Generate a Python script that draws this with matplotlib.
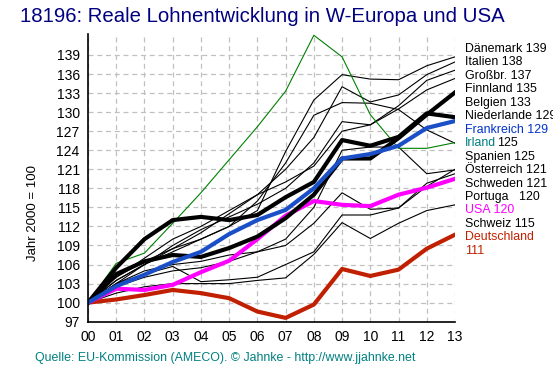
import numpy as np
import matplotlib.pyplot as plt

plt.rcParams['font.family'] = ['Liberation Sans', 'DejaVu Sans']

jahre = ["00", "01", "02", "03", "04", "05", "06", "07", "08", "09", "10", "11", "12", "13"]

# Index Jahr 2000 = 100
daenemark = [100, 103.5, 106, 108, 110, 112, 114.5, 123.8, 131.9, 135.9, 135.2, 135.1, 137.3, 138.7]
italien = [100, 103.5, 106, 108.5, 111, 114, 117, 121, 126, 134, 131.6, 132.7, 135.9, 137.9]
grossbr = [100, 104, 107, 110, 112, 114.5, 117, 119, 121.5, 127, 128, 131, 135, 136.6]
finnland = [100, 103, 106, 109, 111.5, 113.5, 115.5, 118, 122, 128.5, 128, 130.5, 133.5, 135.3]
spanien = [100, 104, 106.5, 108.5, 110, 112, 116, 122, 129.5, 131.5, 131.4, 130.4, 127.2, 125.1]
oesterreich = [100, 102.5, 104, 105, 105.5, 106.5, 108, 110, 115, 124, 124.5, 124.5, 120.3, 120.9]
schweden = [100, 103, 105, 106, 106.5, 107.5, 108, 109, 112.5, 117.3, 114.7, 114.9, 118.3, 121]
portugal = [100, 103, 104.5, 105.7, 103.3, 103.6, 104, 106, 108, 113.8, 113.8, 114.9, 118.8, 120.3]
schweiz = [100, 101.5, 102.5, 103, 103, 103, 103.5, 103.9, 107.6, 112.6, 110.1, 112.5, 114.5, 115.4]
belgien = [100, 104.5, 106.5, 107.5, 107.2, 108.6, 110.4, 113.3, 117, 122.7, 122.7, 125.9, 129.6, 133.1]
niederlande = [100, 105.5, 110, 113, 113.5, 113, 113.8, 116.6, 119, 125.6, 124.7, 126.1, 129.8, 129.2]
frankreich = [100, 102.6, 104.4, 106.4, 108, 110.8, 113, 114.6, 118, 122.7, 123.4, 124.7, 127.5, 128.6]
irland = [100, 106.2, 107.8, 112.5, 117.3, 122.5, 127.7, 133.3, 142.1, 138.7, 129.6, 124.3, 124.3, 125.2]
usa = [100, 102.2, 102, 102.8, 104.8, 106.6, 110, 113.7, 116, 115.4, 115.2, 117, 118.1, 119.5]
deutschland = [100, 100.5, 101.2, 102, 101.5, 100.7, 98.6, 97.6, 99.7, 105.3, 104.2, 105.2, 108.5, 110.7]

dunkelblau = "#000080"
teal = "#008080"
blau = "#1a4fc8"
rot = "#c02000"
magenta = "#ff00ff"
gruen = "#008000"

fig = plt.figure(figsize=(5.53, 3.76), dpi=100)
ax = fig.add_axes([88/553, 1-321.7/376, (455-88)/553, (321.7-34)/376])
x = np.arange(len(jahre))

# duenne schwarze Linien
for reihe in [daenemark, italien, grossbr, finnland, spanien, oesterreich, schweden, portugal, schweiz]:
    ax.plot(x, reihe, color="black", lw=0.8)
ax.plot(x, irland, color=gruen, lw=0.8)
# dicke Linien
ax.plot(x, deutschland, color=rot, lw=3)
ax.plot(x, usa, color=magenta, lw=3)
ax.plot(x, belgien, color="black", lw=3)
ax.plot(x, niederlande, color="black", lw=3)
ax.plot(x, frankreich, color=blau, lw=3)

ax.set_xlim(0, 13)
ax.set_ylim(97, 142.3)
ax.set_xticks(x)
ax.set_xticklabels(jahre, fontsize=10)
ax.set_yticks(np.arange(97, 140, 3))
ax.tick_params(axis="y", labelsize=10, length=0, pad=6)
ax.tick_params(axis="x", length=0, pad=6)
ax.grid(True, color="#c0c0c0", linestyle=(0, (4, 3)), lw=0.9)
ax.set_axisbelow(True)
for s in ["top", "right"]:
    ax.spines[s].set_visible(False)
ax.spines["left"].set_linewidth(1.2)
ax.spines["bottom"].set_linewidth(1.2)

# Beschriftungen rechts
labels = [("Dänemark 139", "black"), ("Italien 138", "black"), ("Großbr. 137", "black"),
          ("Finnland 135", "black"), ("Belgien 133", "black"), ("Niederlande 129", "black"),
          ("Frankreich 129", "#0033cc"), (None, None), ("Spanien 125", "black"),
          ("Österreich 121", "black"), ("Schweden 121", "black"), ("Portuga   120", "black"),
          ("USA 120", magenta), ("Schweiz 115", "black"), ("Deutschland", rot), ("111", rot)]
y0 = 1 - 49/376
dy = 13.45/376
for i, (txt, col) in enumerate(labels):
    yy = y0 - i*dy
    if txt is None:
        fig.text(465/553, yy, "Irland", color=teal, fontsize=8.9, va="center")
        fig.text(497/553, yy, "125", color="black", fontsize=8.9, va="center")
    else:
        fig.text(465/553, yy, txt, color=col, fontsize=8.9, va="center")

fig.text(20/553, 1-17/376, "18196: Reale Lohnentwicklung in W-Europa und USA",
         color=dunkelblau, fontsize=14.65, va="center")
fig.text(33/553, 1-213/376, "Jahr 2000 = 100", rotation=90, fontsize=9.5,
         va="center", ha="center")
fig.text(35/553, 1-358/376, "Quelle: EU-Kommission (AMECO). © Jahnke - http://www.jjahnke.net",
         color=teal, fontsize=8.9, va="center")

fig.savefig("out.png", dpi=100)
